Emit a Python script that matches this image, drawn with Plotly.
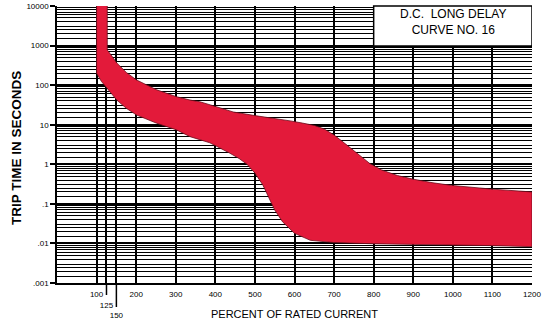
import plotly.graph_objects as go

# ---- data (percent of rated current, trip time in seconds) ----
upper_pct = [127, 127, 140, 151, 175, 201, 252, 302, 336, 361, 400, 445, 500, 540, 589,
             620, 650, 675, 700, 730, 760, 790, 820, 860, 900, 950, 1000, 1100, 1200]
upper_sec = [10000, 776, 520, 363, 210, 135, 76, 51, 42, 38, 29, 21, 17, 15, 12.5,
             11, 9.6, 7.8, 5.5, 3.2, 1.8, 1.05, 0.72, 0.52, 0.42, 0.34, 0.29, 0.235, 0.20]

lower_pct = [100, 100, 112, 125, 151, 175, 201, 252, 302, 336, 386, 437, 460, 480, 500,
             520, 535, 550, 570, 600, 640, 700, 800, 900, 1000, 1100, 1200]
lower_sec = [10000, 200, 125, 85, 42, 26, 17.6, 10.9, 7.4, 5.0, 3.5, 1.9, 1.4, 1.0, 0.6,
             0.3, 0.14, 0.07, 0.035, 0.018, 0.012, 0.0105, 0.0098, 0.0095, 0.009, 0.0088, 0.0083]

x_tickvals = [100, 125, 150, 200, 300, 400, 500, 600, 700, 800, 900, 1000, 1100, 1200]
x_ticktext = ["100", "<br>125", "<br><br>150", "200", "300", "400", "500", "600", "700",
              "800", "900", "1000", "1100", "1200"]

y_tickvals = [0.001, 0.01, 0.1, 1, 10, 100, 1000, 10000]
y_ticktext = [".001", ".01", ".1", "1", "10", "100", "1000", "10000"]
minor_mult = [1.5, 2, 2.5, 3, 4, 5, 6, 7, 8, 9]

title_lines = ["D.C.\u00a0\u00a0LONG DELAY", "CURVE NO. 16"]
x_title = "PERCENT OF RATED CURRENT"
y_title = "TRIP TIME IN SECONDS"

minor_vals = [d * m for d in y_tickvals[:-1] for m in minor_mult]

band_x = upper_pct + lower_pct[::-1]
band_y = upper_sec + lower_sec[::-1]

FONT = "Liberation Sans, Arial, sans-serif"

fig = go.Figure()
fig.add_trace(go.Scatter(
    x=band_x, y=band_y, mode="lines", fill="toself",
    fillcolor="#E31A3A", line=dict(color="#6a0d1c", width=0.8),
    hoverinfo="skip", showlegend=False))

L, R, T, B = 57, 16, 6, 37
W, H = 548, 320
pw, ph = W - L - R, H - T - B

fig.update_layout(
    width=W, height=H,
    margin=dict(l=L, r=R, t=T, b=B, pad=0, autoexpand=False),
    paper_bgcolor="white", plot_bgcolor="white",
    font=dict(family=FONT, color="black"),
    showlegend=False,
    xaxis=dict(
        range=[0, 1200], tickmode="array", tickvals=x_tickvals, ticktext=x_ticktext,
        tickfont=dict(size=8), tickangle=0, automargin=False,
        showgrid=True, gridcolor="black", gridwidth=1.5,
        zeroline=False, showline=True, linecolor="black", linewidth=1.5,
        ticks="", ticklabelstandoff=3,
        title=dict(text=x_title, font=dict(size=11), standoff=6),
    ),
    yaxis=dict(
        type="log", range=[-3, 4], tickmode="array", tickvals=y_tickvals, ticktext=y_ticktext,
        tickfont=dict(size=8), automargin=False,
        showgrid=True, gridcolor="black", gridwidth=1.5,
        zeroline=False, showline=True, linecolor="black", linewidth=1.5,
        ticks="outside", ticklen=5, tickwidth=1.5, tickcolor="black",
        minor=dict(tickmode="array", tickvals=minor_vals, showgrid=True,
                   gridcolor="black", gridwidth=0.75, ticks=""),
    ),
)

# extended tick lines for 125 and 150 below the axis
fig.add_shape(type="line", xref="x", yref="paper", x0=125, x1=125, y0=0, y1=-12 / ph,
              line=dict(color="black", width=1.5))
fig.add_shape(type="line", xref="x", yref="paper", x0=150, x1=150, y0=0, y1=-24 / ph,
              line=dict(color="black", width=1.5))

# title box
fig.add_shape(type="rect", xref="x", yref="paper", x0=800, x1=1200,
              y0=(283 - 46) / ph, y1=1, fillcolor="white",
              line=dict(color="black", width=1.5), layer="above")
fig.add_annotation(xref="x", yref="paper", x=1000, y=(283 - 21.5) / ph,
                   text="<br>".join(title_lines), showarrow=False,
                   font=dict(size=12, family=FONT), align="center",
                   xanchor="center", yanchor="middle")

# y axis title
fig.add_annotation(xref="paper", yref="paper", x=(16 - L) / pw, y=(283 - 148) / ph,
                   text="<b>" + y_title + "</b>", textangle=-90, showarrow=False,
                   font=dict(size=13.5, family=FONT), xanchor="center", yanchor="middle")

fig.write_html("out.html", config={"displayModeBar": False},
               post_script="document.body.style.margin='0px';")
